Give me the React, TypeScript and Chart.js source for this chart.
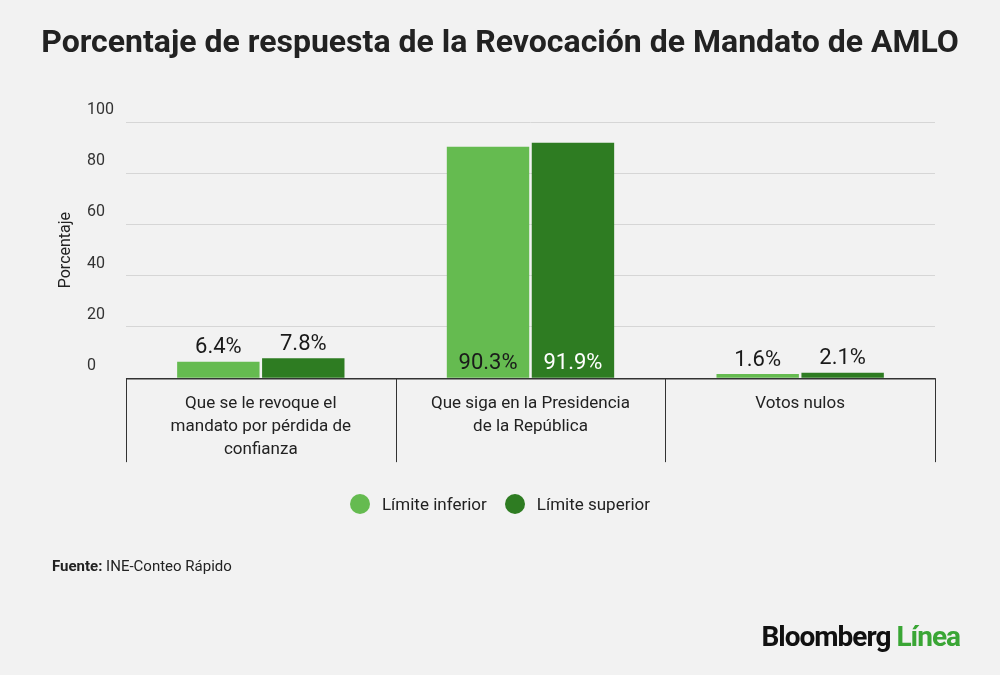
import React, { useEffect, useRef } from "react";
import { Chart, registerables } from "chart.js";
Chart.register(...registerables);

const categories = [
  ["Que se le revoque el", "mandato por pérdida de", "confianza"],
  ["Que siga en la Presidencia", "de la República"],
  ["Votos nulos"],
];
const seriesNames = ["Límite inferior", "Límite superior"];
const inferior = [6.4, 90.3, 1.6];
const superior = [7.8, 91.9, 2.1];
const yTitle = "Porcentaje";
const colors = ["#65bb50", "#2e7c22"];
const FONT = "Roboto, 'Noto Sans', sans-serif";

const labelPlugin = {
  id: "labels",
  afterDatasetsDraw(chart: any) {
    const ctx = chart.ctx;
    ctx.save();
    ctx.font = `22px ${FONT}`;
    ctx.textAlign = "center";
    chart.data.datasets.forEach((ds: any, di: number) => {
      const meta = chart.getDatasetMeta(di);
      meta.data.forEach((bar: any, i: number) => {
        const v = ds.data[i];
        const txt = v.toFixed(1) + "%";
        ctx.textBaseline = "bottom";
        if (v > 50) {
          ctx.fillStyle = di === 0 ? "#1a1a1a" : "#ffffff";
          ctx.fillText(txt, bar.x, bar.base - 3);
        } else {
          ctx.fillStyle = "#1a1a1a";
          ctx.fillText(txt, bar.x, bar.y - 3);
        }
      });
    });
    const a = chart.chartArea;
    ctx.strokeStyle = "#333";
    ctx.lineWidth = 1;
    const n = categories.length;
    const step = (a.right - a.left) / n;
    for (let i = 0; i <= n; i++) {
      const x = Math.round(a.left + step * i) + 0.5;
      ctx.beginPath();
      ctx.moveTo(x, a.bottom);
      ctx.lineTo(x, a.bottom + 84);
      ctx.stroke();
    }
    ctx.beginPath();
    ctx.lineWidth = 1.5;
    ctx.moveTo(a.left, a.bottom + 0.5);
    ctx.lineTo(a.right, a.bottom + 0.5);
    ctx.stroke();
    ctx.translate(66, (a.top + a.bottom) / 2);
    ctx.rotate(-Math.PI / 2);
    ctx.font = `16px ${FONT}`;
    ctx.fillStyle = "#222";
    ctx.textBaseline = "middle";
    ctx.fillText(yTitle, 0, 0);
    ctx.restore();
  },
};

function App() {
  const ref = useRef<HTMLCanvasElement>(null);
  useEffect(() => {
    const chart = new Chart(ref.current!, {
      type: "bar",
      data: {
        labels: categories,
        datasets: [
          { label: seriesNames[0], data: inferior, backgroundColor: colors[0] },
          { label: seriesNames[1], data: superior, backgroundColor: colors[1] },
        ],
      },
      options: {
        animation: false,
        responsive: false,
        layout: { padding: { top: 122, left: 87, right: 65, bottom: 208 } },
        datasets: { bar: { categoryPercentage: 0.63, barPercentage: 0.97 } } as any,
        plugins: { legend: { display: false }, tooltip: { enabled: false } },
        scales: {
          y: {
            min: 0,
            max: 100,
            ticks: { stepSize: 20, color: "#333", font: { family: FONT, size: 16 }, crossAlign: "far", padding: 6, labelOffset: -12 },
            grid: { color: "#d6d6d6", drawTicks: false },
            border: { display: false },
          },
          x: {
            grid: { display: false },
            border: { display: false },
            ticks: { color: "#222", font: { family: FONT, size: 17, lineHeight: 1.35 }, padding: 6, maxRotation: 0 },
          },
        },
      },
      plugins: [labelPlugin],
    });
    return () => chart.destroy();
  }, []);
  return (
    <div style={{ position: "fixed", left: 0, top: 0, width: 1000, height: 675, background: "#f2f2f2", fontFamily: FONT, overflow: "hidden" }}>
      <canvas ref={ref} width={1000} height={675} style={{ position: "absolute", left: 0, top: 0 }} />
      <div style={{ position: "absolute", top: 22, width: 1000, textAlign: "center", fontSize: 32, fontWeight: 700, color: "#222" }}>
        Porcentaje de respuesta de la Revocación de Mandato de AMLO
      </div>
      <div style={{ position: "absolute", top: 494, width: 1000, display: "flex", justifyContent: "center", gap: 18, fontSize: 17, color: "#222" }}>
        {seriesNames.map((s, i) => (
          <span key={s} style={{ display: "flex", alignItems: "center", gap: 12 }}>
            <span style={{ width: 20, height: 20, borderRadius: 10, background: colors[i], display: "inline-block" }} />
            {s}
          </span>
        ))}
      </div>
      <div style={{ position: "absolute", top: 557, left: 52, fontSize: 15, color: "#222" }}>
        <b>Fuente:</b> INE-Conteo Rápido
      </div>
      <div style={{ position: "absolute", top: 620, right: 40, fontSize: 28, fontWeight: 700, letterSpacing: -1, color: "#111" }}>
        Bloomberg <span style={{ color: "#3aa635" }}>Línea</span>
      </div>
    </div>
  );
}
export default App;
